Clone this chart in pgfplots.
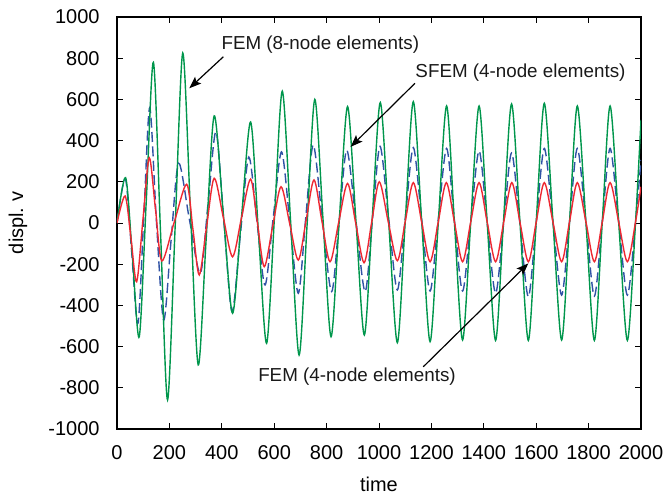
\documentclass[border=0pt]{standalone}
\usepackage{fontspec}
\setmainfont{Liberation Sans}
\usepackage{pgfplots}
\pgfplotsset{compat=1.18}
\usetikzlibrary{arrows.meta}
\definecolor{cgreen}{RGB}{0,150,76}
\definecolor{cred}{RGB}{238,40,50}
\definecolor{cblue}{RGB}{48,82,165}
\begin{document}
\begin{tikzpicture}
\useasboundingbox (-58.5bp,-32.5bp) rectangle (273.5bp,214.5bp);
\begin{axis}[
  at={(0,0)}, anchor=south west,
  width=262bp, height=206bp, scale only axis,
  xmin=0, xmax=2000, ymin=-1000, ymax=1000,
  xtick={0,200,...,2000}, ytick={-1000,-800,...,1000},
  tick align=inside, tick pos=both,
  major tick length=3bp,
  scaled ticks=false,
  /pgf/number format/1000 sep={},
  /pgf/number format/assume math mode=true,
  tick label style={font=\fontsize{10bp}{12bp}\selectfont},
  xticklabel style={yshift=-4.7bp},
  yticklabel style={xshift=-5.2bp},
  label style={font=\fontsize{10bp}{12bp}\selectfont},
  xlabel={time}, ylabel={displ.\ v},
  every axis x label/.style={at={(axis description cs:0.5,-0.1335)},anchor=center},
  every axis y label/.style={at={(axis description cs:-0.189,0.5)},rotate=90,anchor=center},
  axis line style={line width=0.6bp},
  every tick/.style={black, line width=0.5bp},
]
% SFEM (4-node elements)
\addplot[cblue, line width=0.7bp, smooth, dash pattern=on 5bp off 2.2bp] coordinates {
(0,0)(32,215)(56,-140)(80,-487)(103,50)(125,560)(150,20)(178,-471)(206,-90)
(235,290)(276,20)(318,-244)(348,100)(378,443)(408,6)(439,-430)(471,-54)
(503,320)(534,10)(565,-301)(596,22)(628,345)(660,2)(692,-341)(720,19)
(749,379)(783,23)(819,-333)(848,10)(877,354)(912,10)(947,-333)(975,18)
(1004,372)(1037,20)(1070,-325)(1100,20)(1131,366)(1163,15)(1195,-330)(1226,15)
(1258,362)(1288,10)(1319,-330)(1350,5)(1382,350)(1413,0)(1445,-341)(1476,0)
(1506,340)(1538,-5)(1570,-358)(1600,0)(1631,362)(1664,3)(1697,-350)(1727,3)
(1757,362)(1790,3)(1822,-355)(1852,4)(1882,362)(1915,4)(1948,-350)(1979,0)
(2000,306)
};
% FEM (8-node elements)
\addplot[cgreen, line width=0.7bp, smooth] coordinates {
(0,0)(33,220)(59,-166)(85,-552)(112,114)(139,780)(166,-40)(193,-859)(222,-17)
(251,825)(280,68)(310,-689)(340,-85)(371,520)(406,41)(441,-438)(475,26)
(510,490)(540,-47)(571,-584)(601,28)(631,640)(663,0)(695,-641)(725,-20)
(755,600)(786,24)(817,-552)(848,6)(880,565)(912,10)(944,-544)(974,20)
(1005,585)(1037,2)(1070,-581)(1100,4)(1131,589)(1163,6)(1195,-576)(1226,-4)
(1258,568)(1288,0)(1319,-568)(1350,0)(1382,568)(1413,0)(1445,-570)(1475,4)
(1506,578)(1538,5)(1570,-570)(1600,5)(1631,581)(1664,6)(1697,-568)(1727,0)
(1757,568)(1790,-1)(1822,-570)(1852,-1)(1882,568)(1915,-1)(1948,-570)(1979,0)
(2000,500)
};
% FEM (4-node elements)
\addplot[cred, line width=0.7bp, smooth] coordinates {
(0,0)(31,131)(53,-70)(75,-285)(99,16)(123,317)(147,66)(171,-184)(218,2)
(266,188)(290,-32)(314,-252)(342,-17)(371,217)(406,26)(441,-164)(475,24)
(510,213)(536,0)(562,-212)(594,-18)(626,176)(659,-2)(692,-180)(722,14)
(752,209)(782,10)(813,-188)(846,2)(880,192)(911,0)(943,-193)(972,3)
(1001,200)(1035,8)(1070,-183)(1100,6)(1131,196)(1163,4)(1195,-188)(1226,4)
(1257,196)(1288,4)(1319,-188)(1350,4)(1382,196)(1413,4)(1445,-188)(1476,4)
(1507,196)(1538,4)(1570,-188)(1600,4)(1631,196)(1664,4)(1697,-188)(1727,4)
(1757,196)(1790,4)(1822,-188)(1852,4)(1882,196)(1915,4)(1948,-188)(1979,4)
(2000,176)
};
\node[font=\fontsize{9.4bp}{11bp}\selectfont, text=black!90] at (axis cs:776,864) {FEM (8-node elements)};
\node[font=\fontsize{9.4bp}{11bp}\selectfont, text=black!90] at (axis cs:1540,730) {SFEM (4-node elements)};
\node[font=\fontsize{9.4bp}{11bp}\selectfont, text=black!90] at (axis cs:916,-748) {FEM (4-node elements)};
\draw[line width=0.6bp, -{Stealth[length=6bp,width=4.5bp,inset=1.2bp]}] (axis cs:406,807) -- (axis cs:276,654);
\draw[line width=0.6bp, -{Stealth[length=6bp,width=4.5bp,inset=1.2bp]}] (axis cs:1137,678) -- (axis cs:892,370);
\draw[line width=0.6bp, -{Stealth[length=6bp,width=4.5bp,inset=1.2bp]}] (axis cs:1169,-698) -- (axis cs:1570,-196);
\end{axis}
\end{tikzpicture}
\end{document}
